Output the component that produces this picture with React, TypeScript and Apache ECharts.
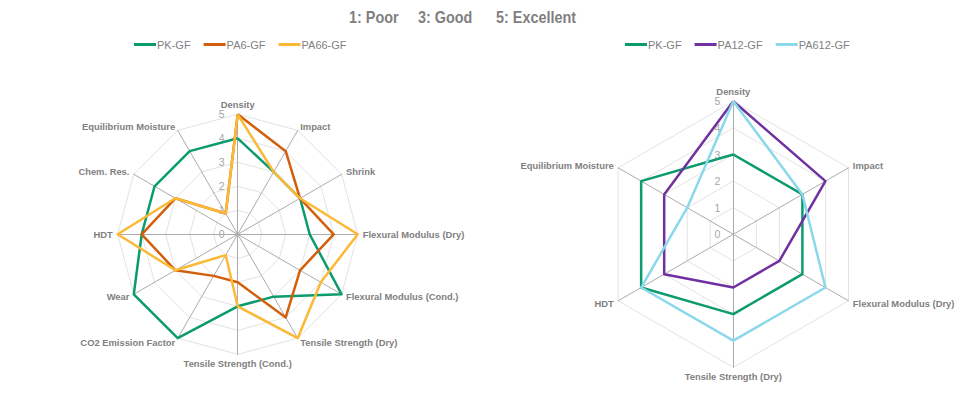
import React, { useEffect, useRef } from "react";
import * as echarts from "echarts";

// Left radar (clockwise from top)
const leftIndicators = [
  "Density",
  "Impact",
  "Shrink",
  "Flexural Modulus (Dry)",
  "Flexural Modulus (Cond.)",
  "Tensile Strength (Dry)",
  "Tensile Strength (Cond.)",
  "CO2 Emission Factor",
  "Wear",
  "HDT",
  "Chem. Res.",
  "Equilibrium Moisture",
];
const leftPK = [4, 3, 3, 3, 5, 3, 3, 5, 5, 4, 4, 4];
const leftPA6 = [5, 4, 3, 4, 3, 4, 2, 2, 3, 4, 3, 1];
const leftPA66 = [5, 3, 3, 5, 4, 5, 3, 1, 3, 5, 3, 1];

// Right radar (clockwise from top)
const rightIndicators = [
  "Density",
  "Impact",
  "Flexural Modulus (Dry)",
  "Tensile Strength (Dry)",
  "HDT",
  "Equilibrium Moisture",
];
const rightPK = [3, 3, 3, 3, 4, 4];
const rightPA12 = [5, 4, 2, 2, 3, 3];
const rightPA612 = [5, 3, 4, 4, 4, 2];

const tickMax = 5;
const titleParts = ["1: Poor", "3: Good", "5: Excellent"];

const C_GREEN = "#0c9b6e";
const C_ORANGE = "#d35f0c";
const C_YELLOW = "#fbb935";
const C_PURPLE = "#7030a0";
const C_LBLUE = "#8ad8ea";
const GREY = "#7f7f7f";
const FONT = "'Liberation Sans', Arial, sans-serif";

// ECharts places indicators counter-clockwise; convert clockwise order.
const ccw = <T,>(arr: T[]): T[] => [arr[0], ...arr.slice(1).reverse()];

function makeRadar(names: string[], center: number[], radius: number) {
  return {
    center,
    radius,
    startAngle: 90,
    splitNumber: 5,
    shape: "polygon",
    indicator: ccw(names).map((n, i) => ({
      name: n,
      min: 0,
      max: tickMax,
      ...(i === 0 ? { axisLabel: { show: true } } : {}),
    })),
    nameGap: 5,
    axisName: {
      color: GREY,
      fontSize: 9.4,
      fontWeight: "bold",
      fontFamily: FONT,
    },
    splitLine: { lineStyle: { color: "#e3e3e3", width: 1 } },
    splitArea: { show: false },
    axisLine: { lineStyle: { color: "#ababab", width: 1 } },
    axisTick: { show: false },
    axisLabel: {
      show: false,
      color: "#a6a6a6",
      fontSize: 10.5,
      fontFamily: FONT,
      margin: 13,
    },
  };
}

function series(name: string, data: number[], color: string, radarIndex: number) {
  return {
    type: "radar",
    name,
    radarIndex,
    symbol: "none",
    lineStyle: { color, width: 2.5 },
    itemStyle: { color },
    data: [{ name, value: ccw(data) }],
  };
}

export default function App() {
  const ref = useRef<HTMLDivElement>(null);
  useEffect(() => {
    if (!ref.current) return;
    const chart = echarts.init(ref.current, undefined, { renderer: "svg" });
    const legendCommon = {
      icon: "rect",
      itemWidth: 22,
      itemHeight: 3,
      itemGap: 13,
      padding: 0,
      textStyle: { color: GREY, fontSize: 11, fontFamily: FONT, padding: [0, 0, 0, -4] },
    };
    const titleX = [349, 418, 496];
    chart.setOption({
      animation: false,
      backgroundColor: "#ffffff",
      graphic: titleParts.map((t, i) => ({
        type: "text",
        x: titleX[i],
        y: 17,
        scaleX: 0.9,
        style: {
          text: t,
          fill: GREY,
          font: `bold 16px ${FONT}`,
          textAlign: "left",
          textVerticalAlign: "middle",
        },
      })),
      legend: [
        {
          ...legendCommon,
          left: 134,
          top: 39,
          data: ["PK-GF", "PA6-GF", "PA66-GF"],
        },
        {
          ...legendCommon,
          left: 625,
          top: 39,
          data: ["PK-GF", "PA12-GF", "PA612-GF"],
        },
      ],
      radar: [
        makeRadar(leftIndicators, [237.7, 234.3], 120),
        makeRadar(rightIndicators, [733.3, 234.3], 133),
      ],
      series: [
        series("PK-GF", leftPK, C_GREEN, 0),
        series("PA6-GF", leftPA6, C_ORANGE, 0),
        series("PA66-GF", leftPA66, C_YELLOW, 0),
        series("PK-GF", rightPK, C_GREEN, 1),
        series("PA12-GF", rightPA12, C_PURPLE, 1),
        series("PA612-GF", rightPA612, C_LBLUE, 1),
      ],
    });
    return () => chart.dispose();
  }, []);
  return (
    <div
      ref={ref}
      style={{ position: "fixed", left: 0, top: 0, width: 977, height: 395, background: "#fff" }}
    />
  );
}
